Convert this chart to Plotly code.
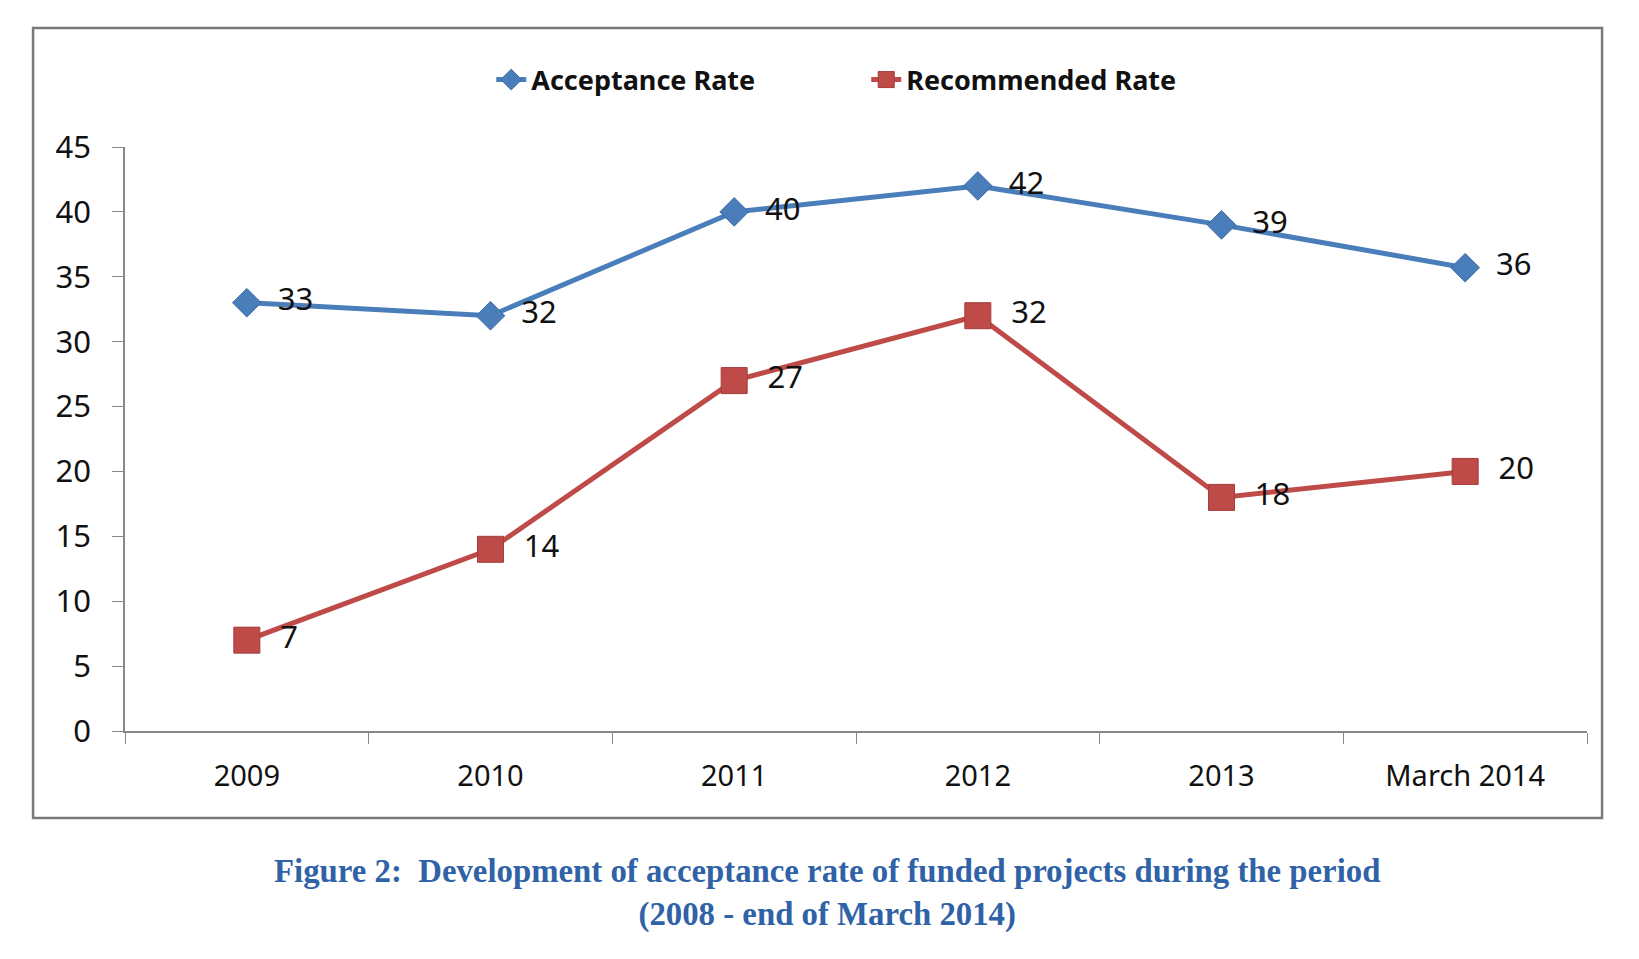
import plotly.graph_objects as go

# Chart data
periods = ["2009", "2010", "2011", "2012", "2013", "March 2014"]
acceptance_rate = [33, 32, 40, 42, 39, 35.7]
recommended_rate = [7, 14, 27, 32, 18, 20]
y_ticks = [0, 5, 10, 15, 20, 25, 30, 35, 40, 45]

caption = ("<b>Figure 2:  Development of acceptance rate of funded projects during the period"
           "<br>(2008 - end of March 2014)</b>")

BLUE = "#4A7EBB"
RED = "#BE4B48"
AXIS = "#878787"
SANS = "Noto Sans, Open Sans, sans-serif"
label_font = dict(family=SANS, size=31, color="#111111")

fig = go.Figure()

fig.add_trace(go.Scatter(
    x=periods, y=acceptance_rate, name="Acceptance Rate",
    mode="lines+markers+text",
    line=dict(color=BLUE, width=5),
    marker=dict(symbol="diamond", size=22, color=BLUE, line=dict(color="#3C6AA6", width=1)),
    texttemplate="  %{y:.0f}", textposition="middle right", textfont=label_font,
))

fig.add_trace(go.Scatter(
    x=periods, y=recommended_rate, name="Recommended Rate",
    mode="lines+markers+text",
    line=dict(color=RED, width=5),
    marker=dict(symbol="square", size=26, color=RED, line=dict(color="#A33C3A", width=1)),
    texttemplate="  %{y:.0f}", textposition="middle right", textfont=label_font,
))

fig.update_layout(
    width=1639, height=959,
    margin=dict(l=117, r=60, t=139, b=236),
    paper_bgcolor="white", plot_bgcolor="white",
    showlegend=True,
    legend=dict(
        orientation="h", x=0.507, xanchor="center", y=1.1147, yanchor="middle",
        font=dict(family=SANS, size=27, color="#111111", weight="bold"),
        entrywidth=330,
    ),
    xaxis=dict(
        type="category", range=[-0.5, 5.5],
        showline=True, linecolor=AXIS, linewidth=1.5,
        ticks="outside", tickson="boundaries", ticklen=11, tickcolor=AXIS,
        ticklabelstandoff=18,
        showgrid=False, zeroline=False,
        tickfont=dict(family=SANS, size=29, color="#111111"),
    ),
    yaxis=dict(
        range=[0, 45], tickvals=y_ticks,
        showline=True, linecolor=AXIS, linewidth=1.5,
        ticks="outside", ticklen=11, tickcolor=AXIS,
        ticklabelstandoff=15,
        showgrid=False, zeroline=False,
        tickfont=dict(family=SANS, size=31, color="#111111"),
    ),
    annotations=[dict(
        text=caption, xref="paper", yref="paper", x=0.480, y=-0.278,
        xanchor="center", yanchor="middle", showarrow=False, align="center",
        font=dict(family="Liberation Serif, serif", size=32.8, color="#2F62A6"),
    )],
    shapes=[dict(
        type="rect", xref="paper", yref="paper",
        x0=-0.0629, x1=1.0103, y0=-0.149, y1=1.2038,
        line=dict(color="#7A7A7A", width=2.5), fillcolor="rgba(0,0,0,0)", layer="below",
    )],
)

fig.write_html("out.html")
